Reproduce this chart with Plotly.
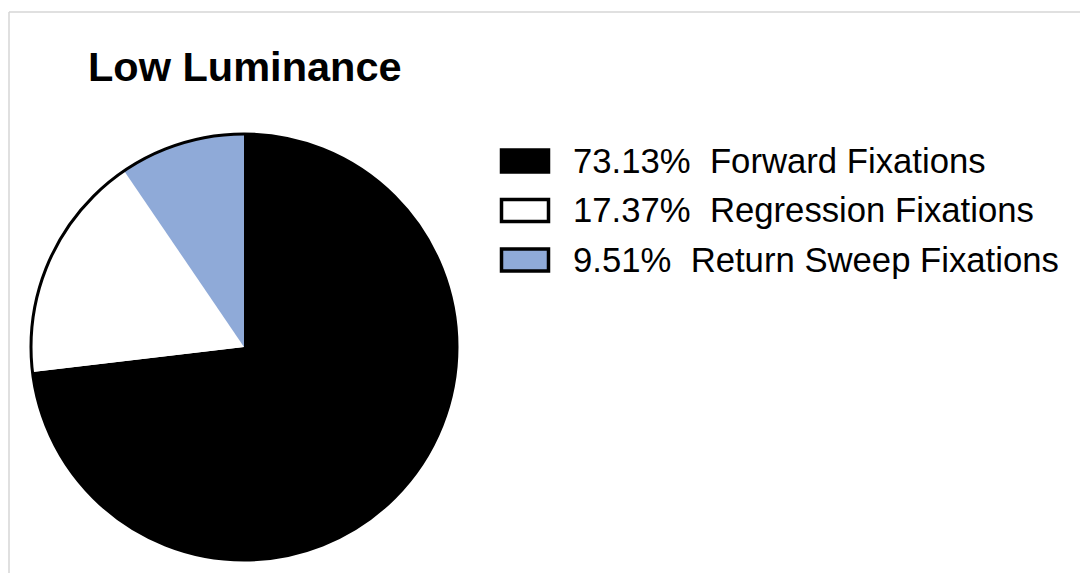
import plotly.graph_objects as go

# Fixation shares under low luminance
labels = ["Forward Fixations", "Regression Fixations", "Return Sweep Fixations"]
percentages = [73.13, 17.37, 9.51]
colors = ["#000000", "#FFFFFF", "#8FAAD8"]
title_text = "Low Luminance"

W, H = 1080, 573
FONT = "Arial, 'Liberation Sans', sans-serif"


def px_x(x):
    return x / W


def px_y(y):
    return 1 - y / H


# pie geometry (pixels)
cx, cy, r = 244, 347, 213
domain = dict(x=[px_x(cx - r), px_x(cx + r)], y=[px_y(cy + r), px_y(cy - r)])

fig = go.Figure()
fig.add_trace(go.Pie(
    labels=labels,
    values=percentages,
    marker=dict(colors=colors, line=dict(width=0)),
    sort=False,
    direction="clockwise",
    rotation=0,
    textinfo="none",
    hoverinfo="label+percent",
    showlegend=False,
    domain=domain,
))
# outer ring drawn as a single transparent slice with a black rim
fig.add_trace(go.Pie(
    values=[1],
    marker=dict(colors=["rgba(0,0,0,0)"], line=dict(color="#000000", width=3)),
    textinfo="none",
    hoverinfo="skip",
    showlegend=False,
    domain=domain,
))

shapes = []
annotations = []

# frame around the chart area
shapes.append(dict(type="line", xref="paper", yref="paper",
                   x0=px_x(9), x1=1.01, y0=px_y(12), y1=px_y(12),
                   line=dict(color="#D6D6D6", width=1.5)))
shapes.append(dict(type="line", xref="paper", yref="paper",
                   x0=px_x(9), x1=px_x(9), y0=-0.01, y1=px_y(12),
                   line=dict(color="#D6D6D6", width=1.5)))

# legend entries: swatch + percentage + label
row0, row_gap = 161, 49.5
for i, (lab, pct, col) in enumerate(zip(labels, percentages, colors)):
    yc = row0 + i * row_gap
    shapes.append(dict(type="rect", xref="paper", yref="paper",
                       x0=px_x(501.5), x1=px_x(548.5),
                       y0=px_y(yc + 11), y1=px_y(yc - 11),
                       fillcolor=col, line=dict(color="#000000", width=3.5)))
    annotations.append(dict(
        xref="paper", yref="paper", x=px_x(571), y=px_y(yc),
        xanchor="left", yanchor="middle", showarrow=False,
        text=f"{pct:.2f}%\u00a0\u00a0{lab}",
        font=dict(family=FONT, size=34.7, color="#000000"),
    ))

annotations.append(dict(
    xref="paper", yref="paper", x=px_x(86), y=px_y(66),
    xanchor="left", yanchor="middle", showarrow=False,
    text=f"<b>{title_text}</b>",
    font=dict(family=FONT, size=41.5, color="#000000"),
))

fig.update_layout(
    width=W, height=H,
    margin=dict(l=0, r=0, t=0, b=0),
    paper_bgcolor="#FFFFFF",
    plot_bgcolor="#FFFFFF",
    shapes=shapes,
    annotations=annotations,
    showlegend=False,
)

fig.write_html("out.html")
